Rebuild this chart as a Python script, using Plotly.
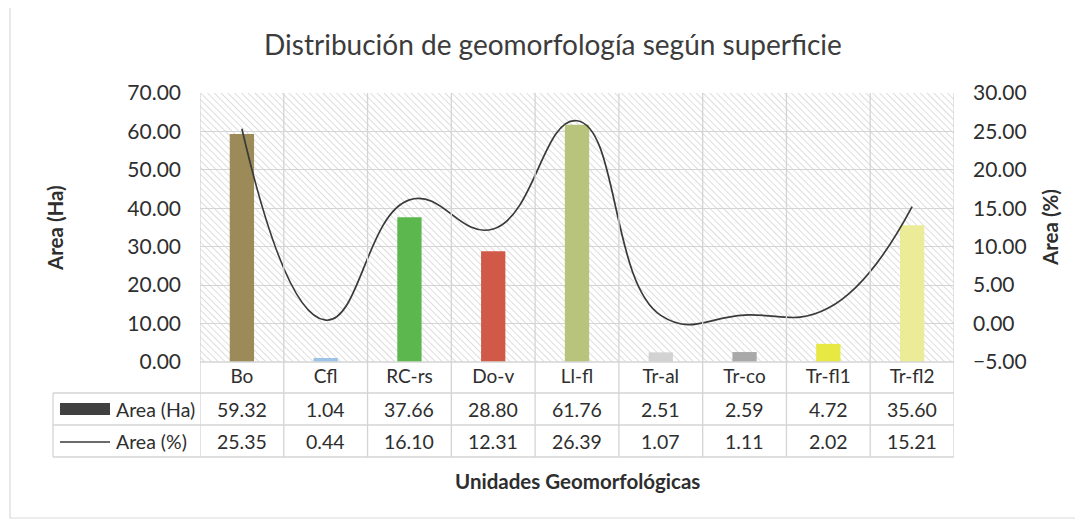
import base64
import plotly.graph_objects as go

categories = ["Bo", "Cfl", "RC-rs", "Do-v", "Ll-fl", "Tr-al", "Tr-co", "Tr-fl1", "Tr-fl2"]
area_ha = [59.32, 1.04, 37.66, 28.80, 61.76, 2.51, 2.59, 4.72, 35.60]
area_pct = [25.35, 0.44, 16.10, 12.31, 26.39, 1.07, 1.11, 2.02, 15.21]
bar_colors = ["#9c8a58", "#9dc3e6", "#5cb84e", "#d05a47", "#b8c47c",
              "#d2d2d2", "#a9a9a9", "#e8e842", "#ecec98"]
row_labels = ["Area (Ha)", "Area (%)"]
title_text = "Distribución de geomorfología según superficie"
x_title = "Unidades Geomorfológicas"

# page body has an 8px margin; work in reference pixel coords and shift
OFF = 8
W, H = 1083 - OFF, 521 - OFF
L, R, T, B = 200, 954, 93, 362   # plot area in reference coords
PW, PH = R - L, B - T


def px(x):
    return (x - L) / PW


def py(y):
    return (B - y) / PH


FONT = "Lato"
TXT = "#2e2e2e"
GRID = "#d4d4d4"

fig = go.Figure()
fig.add_trace(go.Bar(x=categories, y=area_ha, name=row_labels[0],
                     marker=dict(color=bar_colors, line=dict(width=0)),
                     width=0.29, yaxis="y"))
fig.add_trace(go.Scatter(x=categories, y=area_pct, name=row_labels[1], mode="lines",
                         line=dict(color="#3a3a3a", width=1.7, shape="spline", smoothing=1.3),
                         yaxis="y2"))

svg = ('<svg xmlns="http://www.w3.org/2000/svg" width="%d" height="%d">'
       '<defs><pattern id="p" width="4.8" height="4.8" patternUnits="userSpaceOnUse" '
       'patternTransform="rotate(-45)"><line x1="0" y1="-1" x2="0" y2="6" '
       'stroke="#c2c2c2" stroke-width="1.1"/></pattern></defs>'
       '<rect width="100%%" height="100%%" fill="white"/>'
       '<rect width="100%%" height="100%%" fill="url(#p)"/></svg>') % (PW, PH)
src = "data:image/svg+xml;base64," + base64.b64encode(svg.encode()).decode()

shapes = []
shapes.append(dict(type="rect", xref="paper", yref="paper", x0=px(10), x1=px(1076),
                   y0=py(518), y1=py(5), line=dict(color="#d9d9d9", width=1.2), layer="below"))
for i in range(len(categories) + 1):
    shapes.append(dict(type="line", xref="x", yref="paper", x0=i - 0.5, x1=i - 0.5,
                       y0=py(457), y1=1, line=dict(color=GRID, width=1.3)))
shapes.append(dict(type="line", xref="paper", yref="paper", x0=0, x1=1, y0=0, y1=0,
                   line=dict(color=GRID, width=1.3)))
for yy in [393, 425, 457]:
    shapes.append(dict(type="line", xref="paper", yref="paper", x0=px(53), x1=1,
                       y0=py(yy), y1=py(yy), line=dict(color=GRID, width=1.3)))
shapes.append(dict(type="line", xref="paper", yref="paper", x0=px(53), x1=px(53),
                   y0=py(457), y1=py(393), line=dict(color=GRID, width=1.3)))
shapes.append(dict(type="rect", xref="paper", yref="paper", x0=px(60), x1=px(110),
                   y0=py(415), y1=py(403), fillcolor="#404040", line=dict(width=0)))
shapes.append(dict(type="line", xref="paper", yref="paper", x0=px(60), x1=px(110),
                   y0=py(442), y1=py(442), line=dict(color="#3a3a3a", width=1.6)))

ann = []
C = dict(xanchor="center", yanchor="middle", showarrow=False)
for cat, v in zip(categories, area_ha):
    ann.append(dict(x=cat, xref="x", y=py(409), yref="paper", text="%.2f" % v,
                    font=dict(family=FONT, size=19.5, color=TXT), **C))
for cat, v in zip(categories, area_pct):
    ann.append(dict(x=cat, xref="x", y=py(441), yref="paper", text="%.2f" % v,
                    font=dict(family=FONT, size=19.5, color=TXT), **C))
for lab, yy in zip(row_labels, [409, 441]):
    ann.append(dict(x=px(114), xref="paper", y=py(yy), yref="paper", text=lab,
                    xanchor="left", yanchor="middle", showarrow=False,
                    font=dict(family=FONT, size=19.5, color=TXT)))
ann.append(dict(x=px(577), xref="paper", y=py(481), yref="paper", text="<b>%s</b>" % x_title,
                font=dict(family=FONT, size=20.5, color=TXT), **C))
ann.append(dict(x=px(55), xref="paper", y=py(228), yref="paper", text="<b>Area (Ha)</b>",
                textangle=-90, font=dict(family=FONT, size=20.5, color=TXT), **C))
ann.append(dict(x=px(1050), xref="paper", y=py(228), yref="paper", text="<b>Area (%)</b>",
                textangle=-90, font=dict(family=FONT, size=20.5, color=TXT), **C))

fig.update_layout(
    width=W, height=H,
    margin=dict(l=L - OFF, r=W - (R - OFF), t=T - OFF, b=H - (B - OFF), autoexpand=False),
    paper_bgcolor="white", plot_bgcolor="white",
    showlegend=False, barmode="overlay",
    title=dict(text=title_text, x=(553 - OFF) / W, xref="container", xanchor="center",
               y=1 - (45 - OFF) / H, yref="container", yanchor="middle",
               font=dict(family=FONT, size=28, color="#3c3c3c")),
    font=dict(family=FONT, size=19, color=TXT),
    xaxis=dict(type="category", range=[-0.5, len(categories) - 0.5], showgrid=False,
               zeroline=False, showline=False, ticks="", ticklabelstandoff=1,
               tickfont=dict(family=FONT, size=19, color=TXT)),
    yaxis=dict(range=[0, 70], dtick=10, tickformat=".2f", showgrid=True, gridcolor=GRID,
               gridwidth=1.3, zeroline=False, showline=False, ticks="", ticklabelstandoff=18,
               tickfont=dict(family=FONT, size=21, color=TXT)),
    yaxis2=dict(range=[-5, 30], dtick=5, tickformat=".2f", overlaying="y", side="right",
                showgrid=False, zeroline=False, showline=False, ticks="", ticklabelstandoff=18,
                tickfont=dict(family=FONT, size=21, color=TXT)),
    images=[dict(source=src, xref="paper", yref="paper", x=0, y=1, sizex=1, sizey=1,
                 xanchor="left", yanchor="top", sizing="stretch", layer="below")],
    shapes=shapes, annotations=ann,
)

fig.write_html("out.html")
